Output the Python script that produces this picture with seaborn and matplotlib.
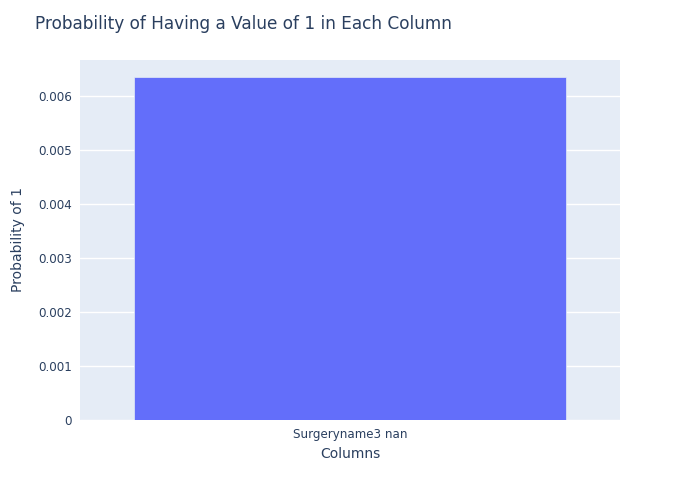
import matplotlib
matplotlib.use("Agg")
import matplotlib.pyplot as plt
import seaborn as sns
import pandas as pd

columns = ["Surgeryname3 nan"]
probabilities = [0.00634]

df = pd.DataFrame({"Columns": columns, "Probability of 1": probabilities})

sns.set_theme(style="darkgrid")
plt.rcParams['font.family'] = ['DejaVu Sans']
text_color = "#2a3f5f"

fig = plt.figure(figsize=(7, 5), dpi=100)
ax = fig.add_axes([80 / 700, 80 / 500, 540 / 700, 360 / 500])
ax.set_facecolor("#e5ecf6")

sns.barplot(data=df, x="Columns", y="Probability of 1", color="#636efa",
            saturation=1, width=0.8, edgecolor="#e5ecf6", linewidth=0.5, ax=ax)

ax.set_xlim(-0.5, 0.5)
ax.set_ylim(0, max(probabilities) * 1.05)
ax.set_yticks([0, 0.001, 0.002, 0.003, 0.004, 0.005, 0.006])
ax.set_yticklabels(["0", "0.001", "0.002", "0.003", "0.004", "0.005", "0.006"])
ax.grid(axis="y", color="white", linewidth=1)
ax.grid(axis="x", visible=False)
for s in ax.spines.values():
    s.set_visible(False)
ax.tick_params(axis="both", colors=text_color, labelsize=8.6, length=0, pad=6)
ax.set_xlabel("Columns", fontsize=10, color=text_color, labelpad=4)
ax.set_ylabel("Probability of 1", fontsize=10, color=text_color, labelpad=9)

fig.text(35 / 700, 1 - 24 / 500, "Probability of Having a Value of 1 in Each Column",
         fontsize=12.2, color=text_color, va="center", ha="left")

fig.savefig("out.png", dpi=100, facecolor="white")
